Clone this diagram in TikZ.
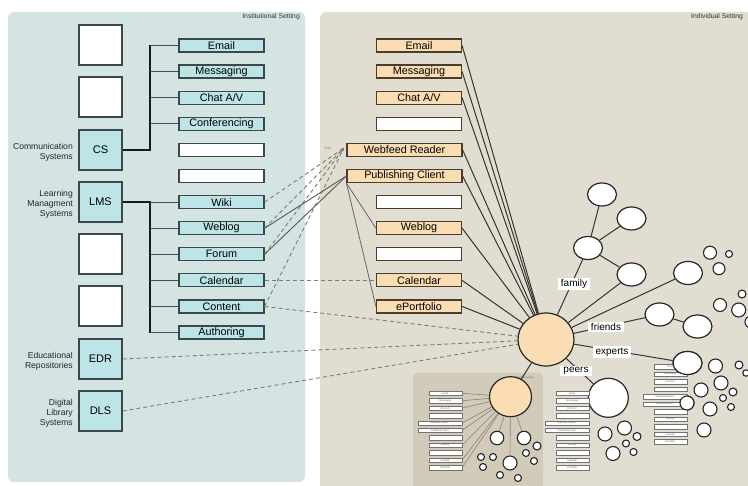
\documentclass[tikz,border=0pt]{standalone}
\usepackage{fontspec}
\setmainfont{Liberation Sans}
\usetikzlibrary{shapes.geometric,arrows.meta}
\definecolor{panelL}{HTML}{D4E4E2}
\definecolor{panelR}{HTML}{E1DDD0}
\definecolor{innerbox}{HTML}{D3CBB9}
\definecolor{cyanbox}{HTML}{BDE5E8}
\definecolor{orangebox}{HTML}{FADDB2}
\definecolor{bord}{HTML}{3C474B}
\definecolor{obord}{HTML}{4A3D30}
\definecolor{dashc}{HTML}{7A7D7D}
\definecolor{spokec}{HTML}{363330}
\definecolor{minic}{HTML}{8A8272}
\begin{document}
\begin{tikzpicture}[x=1pt,y=-1pt,
  lbox/.style={draw=bord,fill=cyanbox,line width=1.2pt,minimum width=85pt,minimum height=13pt,inner sep=0pt,font=\fontsize{10.8}{11}\selectfont},
  obox/.style={lbox,fill=orangebox,draw=obord},
  wbox/.style={lbox,fill=white},
  owbox/.style={lbox,fill=white,draw=obord},
  sq/.style={draw=bord,fill=cyanbox,line width=1.2pt,minimum width=43pt,minimum height=40pt,inner sep=0pt,font=\fontsize{11}{11}\selectfont},
  wsq/.style={sq,fill=white},
  side/.style={anchor=east,align=right,inner sep=0pt,font=\fontsize{8.6}{10}\selectfont,text=black!85},
  trunk/.style={draw=black!90,line width=1.4pt},
  branch/.style={draw=black!70,line width=0.9pt},
  dsh/.style={draw=dashc,line width=0.9pt,dash pattern=on 4pt off 3pt},
  thinl/.style={draw=black!60,line width=0.8pt},
  spoke/.style={draw=spokec,line width=1pt},
  wc/.style={ellipse,draw=black!85,fill=white,line width=1.2pt,inner sep=0pt,minimum width=29pt,minimum height=23pt},
  sc/.style={circle,draw=black!85,fill=white,line width=1.1pt,inner sep=0pt},
  lab/.style={fill=white,inner xsep=3pt,inner ysep=1.5pt,font=\fontsize{10}{10}\selectfont},
  minibox/.style={draw=black!55,fill=white,line width=0.5pt,minimum height=4.5pt,inner sep=0pt,font=\fontsize{2.4}{2.4}\selectfont,text=black!60},
  minil/.style={draw=minic,line width=0.6pt},
]
\useasboundingbox (0,0) rectangle (748,486);
\fill[white] (0,0) rectangle (748,486);
% panels
\fill[panelL,rounded corners=6pt] (8,12) rectangle (305,482);
\fill[panelR,rounded corners=6pt] (320,12) rectangle (770,500);
\node[anchor=north east,inner sep=0pt,font=\fontsize{6.8}{7}\selectfont,text=black!80] (tinst) at (300,13) {Institutional Setting};
\node[anchor=north west,inner sep=0pt,font=\fontsize{6.8}{7}\selectfont,text=black!80] (tind) at (691,13) {Individual Setting};
\fill[innerbox,rounded corners=4pt] (413,373) rectangle (543,500);
\node[inner sep=0pt,font=\fontsize{2.5}{3}\selectfont,text=black!55] (tinner) at (524,377.5) {Individual Setting};

% left squares
\node[wsq] (w1) at (100.5,45) {};
\node[wsq] (w2) at (100.5,97) {};
\node[sq] (cs) at (100.5,150) {CS};
\node[sq] (lms) at (100.5,202) {LMS};
\node[wsq] (w3) at (100.5,254) {};
\node[wsq] (w4) at (100.5,306) {};
\node[sq] (edr) at (100.5,359) {EDR};
\node[sq] (dls) at (100.5,411) {DLS};
\node[side] (tcs) at (73,152) {Communication\\Systems};
\node[side] (tlms) at (73,204) {Learning\\Managment\\Systems};
\node[side] (tedr) at (73,361) {Educational\\Repositories};
\node[side] (tdls) at (73,413) {Digital\\Library\\Systems};

% left column
\node[lbox] (lemail) at (221.5,45.5) {Email};
\node[lbox] (lmsg) at (221.5,71.6) {Messaging};
\node[lbox] (lchat) at (221.5,97.7) {Chat A/V};
\node[lbox] (lconf) at (221.5,123.8) {Conferencing};
\node[wbox] (lb1) at (221.5,149.9) {};
\node[wbox] (lb2) at (221.5,176) {};
\node[lbox] (lwiki) at (221.5,202.1) {Wiki};
\node[lbox] (lweblog) at (221.5,228.2) {Weblog};
\node[lbox] (lforum) at (221.5,254.3) {Forum};
\node[lbox] (lcal) at (221.5,280.4) {Calendar};
\node[lbox] (lcont) at (221.5,306.5) {Content};
\node[lbox] (lauth) at (221.5,332.6) {Authoring};

% trees
\coordinate (cstop) at (150,45.5);
\coordinate (csj) at (150,150);
\draw[trunk] (cs.east) -- (csj) -- (cstop);
\foreach \n in {lemail,lmsg,lchat,lconf} \draw[branch] (cstop |- \n.west) -- (\n.west);
\coordinate (lmsj) at (150,202);
\coordinate (lmsbot) at (150,332.6);
\draw[trunk] (lms.east) -- (lmsj) -- (lmsbot);
\foreach \n in {lwiki,lweblog,lforum,lcal,lcont,lauth} \draw[branch] (lmsj |- \n.west) -- (\n.west);

% middle column
\node[obox] (oemail) at (419,45.5) {Email};
\node[obox] (omsg) at (419,71.6) {Messaging};
\node[obox] (ochat) at (419,97.7) {Chat A/V};
\node[owbox] (ob1) at (419,123.8) {};
\node[obox,minimum width=115pt] (wfr) at (404.5,149.9) {Webfeed Reader};
\node[obox,minimum width=115pt] (pub) at (404.5,176) {Publishing Client};
\node[owbox] (ob2) at (419,202.1) {};
\node[obox] (oweblog) at (419,228.2) {Weblog};
\node[owbox] (ob3) at (419,254.3) {};
\node[obox] (ocal) at (419,280.4) {Calendar};
\node[obox] (oport) at (419,306.5) {ePortfolio};

% central circle and graph
\node[ellipse,draw=black!85,fill=orangebox,line width=1.2pt,minimum width=56pt,minimum height=53pt,inner sep=0pt] (main) at (546,339.5) {};
\node[ellipse,draw=black!85,fill=orangebox,line width=1.2pt,minimum width=42pt,minimum height=40pt,inner sep=0pt] (bc) at (510.5,396.7) {};
\node[ellipse,draw=black!85,fill=white,line width=1.2pt,minimum width=40pt,minimum height=39pt,inner sep=0pt] (peer) at (608.3,397.8) {};
\node[wc] (ca) at (602,194.5) {};
\node[wc] (cb) at (631.5,218.5) {};
\node[wc] (cc) at (588,248) {};
\node[wc] (cd) at (631.5,274.5) {};
\node[wc] (ce) at (688,273) {};
\node[wc] (cf) at (659.5,314.5) {};
\node[wc] (cg) at (697.5,326.5) {};
\node[wc] (ch) at (687.5,363) {};

% connectors: orange boxes to centre
\foreach \n in {oemail,omsg,ochat,wfr,pub,oweblog,ocal,oport} \draw[spoke] (\n.east) -- (main);
\draw[thinl] (pub.south west) -- (oweblog.west);
\draw[thinl] (pub.south west) -- (oport.west);
% institutional to individual
\coordinate (rssin) at (344,148);
\foreach \n in {lwiki,lweblog,lforum,lcont} \draw[dsh,-{Stealth[length=3pt,width=2.5pt]}] (\n.east) -- (rssin);
\node[inner sep=0pt,font=\fontsize{3.2}{3.5}\selectfont,text=black!55] (rss) at (328,148.5) {RSS};
\draw[thinl,line width=0.9pt,draw=black!65] (lweblog.east) -- (pub.west);
\draw[thinl,line width=0.9pt,draw=black!65] (lforum.east) -- (pub.west);
\draw[dsh] (lcal.east) -- (ocal.west);
\draw[dsh] (lcont.east) -- (main);
\draw[dsh] (edr.east) -- (main);
\draw[dsh] (dls.east) -- (main);

% social graph
\draw[spoke] (main) -- (cc);
\draw[spoke] (cc) -- (ca);
\draw[spoke] (cc) -- (cb);
\draw[spoke] (cc) -- (cd);
\draw[spoke] (main) -- (cd);
\draw[spoke] (main) -- (ce);
\draw[spoke] (main) -- (cf);
\draw[spoke] (cf) -- (cg);
\draw[spoke] (main) -- (ch);
\draw[spoke] (main) -- (peer);
\draw[spoke] (main) -- (bc);

% small circles
\foreach \x/\y/\r [count=\k] in {710/252.7/6.5,729/254/3.5,719/268.7/6,
  720/305/6.5,738.7/310/7,742/294/4,751/322/6,
  715.5/366/7,739/365/4,746/373/3.2,721/383/7,701/390/7,733/392/4,723/398/3.5,731/407/3.5,710/409/7,687/403/7,704/430/7,
  605/434/7,624.5/428/7,637/436.5/4,626/443.5/3.5,633.5/452/3.5,613/453.5/7,
  537/446/4,526/453/3.5,534/461/3.5,481/457/3.5,493/457/3.5,483/467/3.5,500/475/3.5,518/478/3.5}
  \node[sc,minimum size=2*\r pt] (s\k) at (\x,\y) {};
\node[sc,minimum size=13.5pt] (b1) at (497,438) {};
\node[sc,minimum size=13.5pt] (b2) at (524,438) {};
\node[sc,minimum size=14pt] (b3) at (510,463) {};
\draw[minil] (bc) -- (b1);
\draw[minil] (bc) -- (b2);
\draw[minil] (bc) -- (b3);

% mini columns
\foreach \t [count=\j from 0] in {Email,Messaging,Chat A/V,{},Webfeed Reader,Publishing Client,{},Weblog,{},Calendar,ePortfolio} {
  \pgfmathsetmacro\w{(\j==4||\j==5)?44:33}
  \node[minibox,anchor=east,minimum width=\w pt] (ma-\j) at (462,393.3+7.43*\j) {\t};
  \node[minibox,anchor=east,minimum width=\w pt] (mb-\j) at (589,393.3+7.43*\j) {\t};
  \node[minibox,anchor=east,minimum width=\w pt] (mc-\j) at (687,366.7+7.5*\j) {\t};
}
\foreach \j in {0,1,2,4,5,7,9,10} \draw[minil] (ma-\j.east) -- (bc);
% redraw circles overlapping mini boxes
\node[wc] (ch2) at (687.5,363) {};
\node[sc,minimum size=14pt] (s17b) at (687,403) {};

% labels
\node[lab] (lfam) at (574,284) {family};
\node[lab] (lfri) at (606,327) {friends};
\node[lab] (lexp) at (612,352) {experts};
\node[lab] (lpeer) at (576,371) {peers};
\end{tikzpicture}
\end{document}
